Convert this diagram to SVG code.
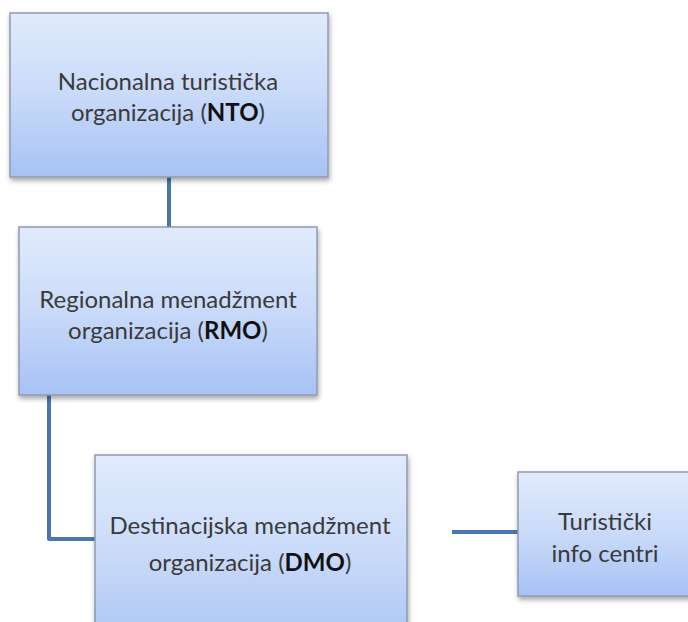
<svg xmlns="http://www.w3.org/2000/svg" width="688" height="622" viewBox="0 0 688 622">
<style>
.box{fill:url(#g);stroke:#8e9bb0;stroke-width:1.5;filter:url(#sh)}
.t{font-family:Lato,"Open Sans",sans-serif;font-size:24px;fill:#3a3a3a;text-anchor:middle}
.b{font-weight:bold;fill:#111}
.c{fill:none;stroke:#4a76b0;stroke-width:4;stroke-linejoin:round}
</style>
<defs>
<linearGradient id="g" x1="0" y1="0" x2="0" y2="1">
<stop offset="0" stop-color="#e1ebfc"/>
<stop offset="0.5" stop-color="#c9daf9"/>
<stop offset="1" stop-color="#a7c2f4"/>
</linearGradient>
<filter id="sh" x="-10%" y="-10%" width="120%" height="130%">
<feDropShadow dx="1" dy="3" stdDeviation="2.5" flood-color="#000" flood-opacity="0.35"/>
</filter>
</defs>
<g id="connectors">
<path class="c" d="M169 177V227"/>
<path class="c" d="M49 395V539H95"/>
<path class="c" d="M452 532H518"/>
</g>
<g id="nto">
<rect class="box" x="10" y="13" width="318" height="164"/>
<text class="t" x="168" y="90">Nacionalna turistička</text>
<text class="t" x="168" y="121">organizacija (<tspan class="b">NTO</tspan>)</text>
</g>
<g id="rmo">
<rect class="box" x="19" y="227" width="298" height="168"/>
<text class="t" x="168" y="308">Regionalna menadžment</text>
<text class="t" x="168" y="339">organizacija (<tspan class="b">RMO</tspan>)</text>
</g>
<g id="dmo">
<rect class="box" x="95" y="455" width="312" height="200"/>
<text class="t" x="250" y="534">Destinacijska menadžment</text>
<text class="t" x="250" y="571">organizacija (<tspan class="b">DMO</tspan>)</text>
</g>
<g id="tic">
<rect class="box" x="518" y="472" width="180" height="124"/>
<text class="t" x="605" y="530">Turistički</text>
<text class="t" x="605" y="562">info centri</text>
</g>
</svg>
